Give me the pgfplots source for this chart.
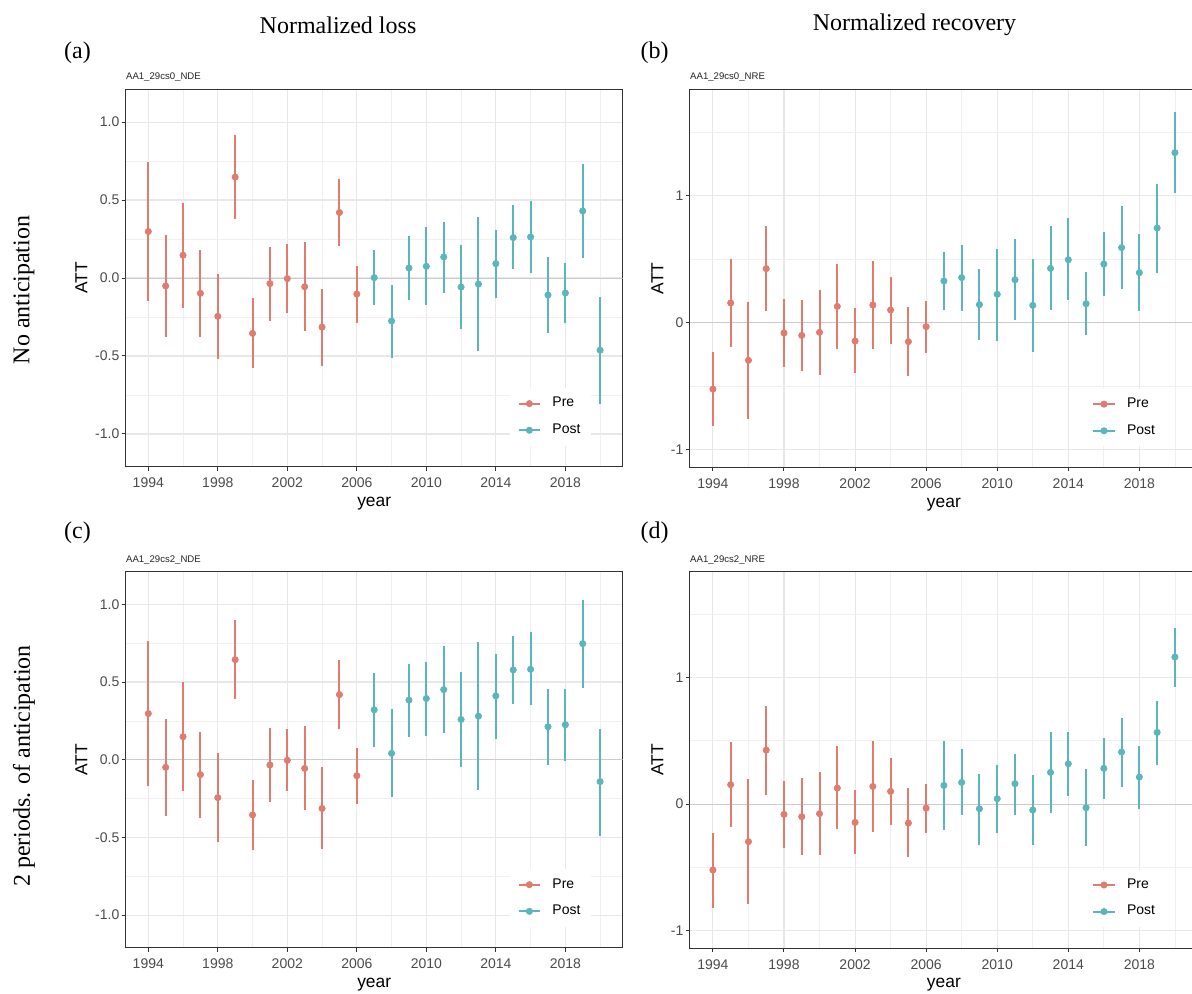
\documentclass[border=0pt]{standalone}
\usepackage{fontspec}
\setmainfont{Liberation Serif}
\newfontfamily\sans{Liberation Sans}
\usepackage{pgfplots}
\usepackage{pgfplotstable}
\pgfplotsset{compat=1.18}

\definecolor{pre}{HTML}{E07B6F}
\definecolor{post}{HTML}{5AB6BA}

% ATT estimates with confidence bounds: year, estimate, lower, upper
\pgfplotstableread{
year est lo hi
1994  0.298 -0.146  0.741
1995 -0.051 -0.377  0.276
1996  0.146 -0.193  0.484
1997 -0.098 -0.377  0.180
1998 -0.246 -0.518  0.028
1999  0.647  0.379  0.914
2000 -0.355 -0.578 -0.131
2001 -0.036 -0.274  0.201
2002 -0.004 -0.225  0.218
2003 -0.056 -0.343  0.231
2004 -0.315 -0.563 -0.071
2005  0.420  0.203  0.638
2006 -0.103 -0.287  0.075
}\preA
\pgfplotstableread{
year est lo hi
2007  0.002 -0.176  0.180
2008 -0.276 -0.510 -0.047
2009  0.064 -0.141  0.270
2010  0.075 -0.176  0.325
2011  0.135 -0.094  0.360
2012 -0.058 -0.330  0.212
2013 -0.039 -0.467  0.392
2014  0.092 -0.128  0.306
2015  0.259  0.056  0.465
2016  0.263  0.034  0.495
2017 -0.109 -0.353  0.133
2018 -0.096 -0.287  0.094
2019  0.430  0.131  0.728
2020 -0.463 -0.805 -0.120
}\postA
\pgfplotstableread{
year est lo hi
1994 -0.522 -0.810 -0.228
1995  0.155 -0.194  0.501
1996 -0.296 -0.758  0.160
1997  0.425  0.089  0.758
1998 -0.081 -0.346  0.183
1999 -0.100 -0.377  0.178
2000 -0.076 -0.414  0.260
2001  0.128 -0.204  0.461
2002 -0.144 -0.398  0.118
2003  0.139 -0.204  0.485
2004  0.100 -0.165  0.362
2005 -0.149 -0.417  0.121
2006 -0.031 -0.236  0.170
}\preB
\pgfplotstableread{
year est lo hi
2007  0.328  0.100  0.553
2008  0.354  0.094  0.611
2009  0.142 -0.139  0.425
2010  0.223 -0.142  0.582
2011  0.338  0.018  0.661
2012  0.136 -0.233  0.498
2013  0.427  0.097  0.763
2014  0.495  0.176  0.820
2015  0.149 -0.100  0.396
2016  0.461  0.207  0.710
2017  0.590  0.265  0.915
2018  0.393  0.092  0.700
2019  0.744  0.393  1.093
2020  1.337  1.017  1.659
}\postB
\pgfplotstableread{
year est lo hi
1994  0.297 -0.167  0.761
1995 -0.049 -0.361  0.263
1996  0.148 -0.201  0.498
1997 -0.096 -0.372  0.178
1998 -0.244 -0.530  0.045
1999  0.644  0.391  0.900
2000 -0.355 -0.580 -0.128
2001 -0.034 -0.274  0.201
2002 -0.004 -0.203  0.197
2003 -0.056 -0.323  0.218
2004 -0.314 -0.575 -0.049
2005  0.419  0.197  0.644
2006 -0.103 -0.284  0.077
}\preC
\pgfplotstableread{
year est lo hi
2007  0.321  0.081  0.558
2008  0.041 -0.242  0.325
2009  0.383  0.148  0.614
2010  0.394  0.154  0.627
2011  0.451  0.169  0.734
2012  0.259 -0.045  0.563
2013  0.280 -0.195  0.755
2014  0.411  0.135  0.680
2015  0.578  0.357  0.796
2016  0.582  0.349  0.819
2017  0.212 -0.032  0.453
2018  0.225 -0.011  0.453
2019  0.747  0.464  1.031
2020 -0.141 -0.488  0.199
}\postC
\pgfplotstableread{
year est lo hi
1994 -0.521 -0.818 -0.232
1995  0.153 -0.184  0.489
1996 -0.297 -0.792  0.195
1997  0.426  0.068  0.776
1998 -0.082 -0.347  0.182
1999 -0.100 -0.405  0.203
2000 -0.076 -0.405  0.253
2001  0.126 -0.197  0.455
2002 -0.145 -0.397  0.111
2003  0.139 -0.221  0.497
2004  0.100 -0.166  0.361
2005 -0.150 -0.418  0.124
2006 -0.032 -0.226  0.161
}\preD
\pgfplotstableread{
year est lo hi
2007  0.147 -0.208  0.497
2008  0.171 -0.087  0.432
2009 -0.037 -0.321  0.239
2010  0.042 -0.226  0.308
2011  0.161 -0.084  0.397
2012 -0.047 -0.326  0.232
2013  0.250 -0.068  0.566
2014  0.318  0.063  0.566
2015 -0.029 -0.334  0.274
2016  0.282  0.037  0.521
2017  0.411  0.137  0.676
2018  0.213 -0.037  0.458
2019  0.566  0.305  0.816
2020  1.161  0.924  1.392
}\postD

\newcommand{\ticksize}{\sans\fontsize{7}{8}\selectfont}
\newcommand{\labsize}{\sans\fontsize{8.7}{10}\selectfont}
\newcommand{\bigsize}{\fontsize{12}{14}\selectfont}

\pgfplotsset{
  evt/.style={
    scale only axis, anchor=south west,
    xmin=1992.7, xmax=2021.3,
    xtick={1994,1998,...,2018},
    xticklabels={1994,1998,2002,2006,2010,2014,2018},
    minor xtick={1996,2000,...,2020},
    grid=both,
    major grid style={black!9, line width=0.55pt},
    minor grid style={black!6, line width=0.35pt},
    axis line style={black!80, line width=0.5pt},
    tick style={black!80, line width=0.5pt},
    major tick length=2pt, minor tick length=0pt,
    tick align=outside, tick pos=left,
    tick label style={font=\ticksize, text=black!70},
    xticklabel style={inner sep=1.5pt, yshift=-2pt},
    yticklabel style={inner sep=1pt},
    xlabel={year},
    every axis x label/.style={at={(rel axis cs:0.5,0)}, yshift=-18.5pt, anchor=center, font=\labsize},
    ylabel={ATT},
    title style={at={(rel axis cs:0,1)}, anchor=base west, yshift=-1.3pt, inner sep=0pt,
      font=\sans\fontsize{4.8}{5.5}\selectfont, text=black!85},
    legend style={at={(rel axis cs:0.938,0.055)}, anchor=south east,
      fill=white, draw=none, font=\ticksize, text=black,
      inner xsep=4pt, inner ysep=3pt, row sep=4pt,
      nodes={inner sep=1.5pt}},
    legend cell align=left,
  },
  lossy/.style={
    ymin=-1.21, ymax=1.21,
    ytick={-1,-0.5,0,0.5,1},
    yticklabels={-1.0,-0.5,0.0,0.5,1.0},
    minor ytick={-0.75,-0.25,0.25,0.75},
    every axis y label/.style={at={(rel axis cs:0,0.5)}, xshift=-22.2pt, rotate=90, anchor=center, font=\labsize},
  },
  recy/.style={
    ymin=-1.137, ymax=1.835,
    ytick={-1,0,1},
    yticklabels={-1,0,1},
    minor ytick={-0.5,0.5,1.5},
    every axis y label/.style={at={(rel axis cs:0,0.5)}, xshift=-16.2pt, rotate=90, anchor=center, font=\labsize},
  },
  preplot/.style={
    only marks, mark=*, mark size=1.55pt, color=pre,
    legend image code/.code={
      \draw[pre, line width=0.9pt] (0pt,0pt) -- (10.7pt,0pt);
      \fill[pre] (5.35pt,0pt) circle (1.55pt);
      \path (15.2pt,0pt);},
    error bars/y dir=both, error bars/y explicit, error bars/error mark=none,
    error bars/error bar style={line width=1pt},
  },
  postplot/.style={
    only marks, mark=*, mark size=1.55pt, color=post,
    legend image code/.code={
      \draw[post, line width=0.9pt] (0pt,0pt) -- (10.7pt,0pt);
      \fill[post] (5.35pt,0pt) circle (1.55pt);
      \path (15.2pt,0pt);},
    error bars/y dir=both, error bars/y explicit, error bars/error mark=none,
    error bars/error bar style={line width=1pt},
  },
  zeroline/.style={black!20, line width=0.5pt, forget plot},
}

% estimate with its interval
\newcommand{\ci}[2]{%
  \addplot[#1] table[x=year, y=est,
    y error plus expr=\thisrow{hi}-\thisrow{est},
    y error minus expr=\thisrow{est}-\thisrow{lo}] {#2};}

\begin{document}
\begin{tikzpicture}
\useasboundingbox (0,0) rectangle (596pt,496.5pt);
\fill[white] (0,0) rectangle (596pt,496.5pt);

% column and row headings
\node[font=\bigsize] at (169pt,484pt) {Normalized loss};
\node[font=\bigsize] at (457.25pt,484pt) {Normalized recovery};
\node[font=\bigsize, rotate=90] at (12pt,351.5pt) {No anticipation};
\node[font=\bigsize, rotate=90] at (12pt,113.5pt) {2 periods. of anticipation};
\node[font=\bigsize] at (38.75pt,470pt) {(a)};
\node[font=\bigsize] at (327.25pt,470pt) {(b)};
\node[font=\bigsize] at (38.75pt,230pt) {(c)};
\node[font=\bigsize] at (327.25pt,230pt) {(d)};

% (a) loss, no anticipation
\begin{axis}[evt, lossy, at={(62.85pt,263.15pt)}, width=248.5pt, height=188.7pt,
  title={AA1\_29cs0\_NDE}]
  \addplot[zeroline] coordinates {(1990,0) (2025,0)};
  \ci{preplot}{\preA}
  \addlegendentry{Pre}
  \ci{postplot}{\postA}
  \addlegendentry{Post}
\end{axis}

% (b) recovery, no anticipation
\begin{axis}[evt, recy, at={(344.9pt,262.85pt)}, width=254.1pt, height=189pt,
  title={AA1\_29cs0\_NRE}]
  \addplot[zeroline] coordinates {(1990,0) (2025,0)};
  \ci{preplot}{\preB}
  \addlegendentry{Pre}
  \ci{postplot}{\postB}
  \addlegendentry{Post}
\end{axis}

% (c) loss, two periods of anticipation
\begin{axis}[evt, lossy, at={(62.85pt,22.65pt)}, width=248.5pt, height=188pt,
  title={AA1\_29cs2\_NDE}]
  \addplot[zeroline] coordinates {(1990,0) (2025,0)};
  \ci{preplot}{\preC}
  \addlegendentry{Pre}
  \ci{postplot}{\postC}
  \addlegendentry{Post}
\end{axis}

% (d) recovery, two periods of anticipation
\begin{axis}[evt, recy, at={(344.9pt,22.5pt)}, width=254.1pt, height=188.15pt,
  title={AA1\_29cs2\_NRE}]
  \addplot[zeroline] coordinates {(1990,0) (2025,0)};
  \ci{preplot}{\preD}
  \addlegendentry{Pre}
  \ci{postplot}{\postD}
  \addlegendentry{Post}
\end{axis}
\end{tikzpicture}
\end{document}
